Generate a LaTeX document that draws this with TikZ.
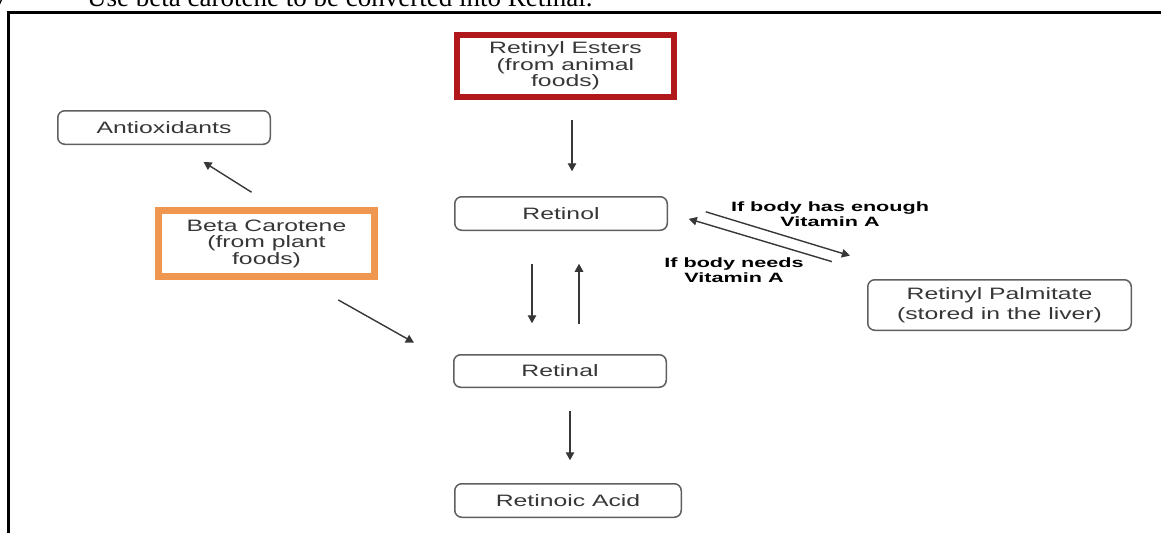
\documentclass[tikz,border=0pt]{standalone}
\usepackage{fontspec}
\setmainfont{Liberation Serif}
\newfontfamily\boxfont[FakeStretch=1.5]{Liberation Sans}
\newfontfamily\notefont[FakeStretch=1.6]{Liberation Sans}
\usepackage{tikz}
\usetikzlibrary{arrows.meta}
\definecolor{boxgray}{RGB}{95,95,95}
\definecolor{txtgray}{RGB}{55,55,55}
\definecolor{esterred}{RGB}{176,24,28}
\definecolor{carotorange}{RGB}{239,150,80}

\begin{document}
\begin{tikzpicture}[x=1pt,y=1pt,
    stage/.style={draw=boxgray,line width=1.5pt,rounded corners=7pt,fill=white,inner sep=0pt,
        text=txtgray,align=center,font=\boxfont\fontsize{16.5}{20}\selectfont},
    source/.style={line width=6pt,fill=white,inner sep=0pt,
        text=txtgray,align=center,font=\boxfont\fontsize{16.5}{16.5}\selectfont},
    note/.style={inner sep=0pt,align=center,text=black,font=\notefont\bfseries\fontsize{13.5}{15}\selectfont},
    conv/.style={-{Triangle[length=8pt,width=8.5pt]},line width=1.4pt,draw=txtgray}]
    \useasboundingbox (0,0) rectangle (1161,-533);
    \clip (0,0) rectangle (1161,-533);
    % Heading line above the frame
    \node[anchor=base west,inner sep=0pt,font=\fontsize{27}{27}\selectfont] (num) at (-5,-5) {7};
    \node[anchor=base west,inner sep=0pt,font=\fontsize{27}{27}\selectfont] (title) at (87,-6) {Use beta carotene to be converted into Retinal.};
    % Frame
    \draw[line width=3pt] (8.5,-533) |- (1161,-12);
    % Sources
    \node[source,draw=esterred,minimum width=217pt,minimum height=62pt] (esters) at (565.5,-66) {Retinyl Esters\\(from animal\\foods)};
    \node[source,draw=carotorange,line width=7pt,minimum width=216pt,minimum height=66pt] (beta) at (266.5,-243.5) {Beta Carotene\\(from plant\\foods)};
    % Stages
    \node[stage,minimum width=212.5pt,minimum height=33.5pt] (antiox) at (164,-127.5) {Antioxidants};
    \node[stage,minimum width=212.5pt,minimum height=33.5pt] (retinol) at (561,-213.5) {Retinol};
    \node[stage,minimum width=212.5pt,minimum height=32.5pt] (retinal) at (560,-371) {Retinal};
    \node[stage,minimum width=226.5pt,minimum height=33.5pt] (acid) at (568,-500.5) {Retinoic Acid};
    \node[stage,minimum width=263.5pt,minimum height=50.5pt] (palm) at (999.5,-305) {Retinyl Palmitate\\(stored in the liver)};
    % Notes
    \node[note] (enough) at (830,-214) {If body has enough\\Vitamin A};
    \node[note] (needs) at (734,-270) {If body needs\\Vitamin A};
    % Arrows
    \draw[conv,shorten <=20pt,shorten >=24.75pt] ([xshift=6.5pt]esters.south) -- ([xshift=11pt]retinol.north);
    \draw[conv,shorten <=27.7pt,shorten >=31.8pt] ([xshift=8.5pt]beta.north) -- ([xshift=12.6pt]antiox.south);
    \draw[conv,shorten <=40.6pt,shorten >=44.9pt] ([xshift=36.4pt]beta.south) -- ([yshift=6.4pt]retinal.west);
    \draw[conv,shorten <=32.75pt,shorten >=30.75pt] ([xshift=-29pt]retinol.south) -- ([xshift=-28pt]retinal.north);
    \draw[conv,shorten <=29.75pt,shorten >=32.75pt] ([xshift=19pt]retinal.north) -- ([xshift=18pt]retinol.south);
    \draw[conv,shorten <=22.75pt,shorten >=22.75pt] ([xshift=10pt]retinal.south) -- ([xshift=2pt]acid.north);
    \draw[conv,shorten <=39.5pt,shorten >=80.2pt] ([yshift=13.2pt]retinol.east) -- ([xshift=-72.9pt]palm.north);
    \draw[conv,shorten <=60.7pt,shorten >=21.7pt] ([xshift=-109.4pt]palm.north) -- ([yshift=0.84pt]retinol.east);
\end{tikzpicture}
\end{document}
